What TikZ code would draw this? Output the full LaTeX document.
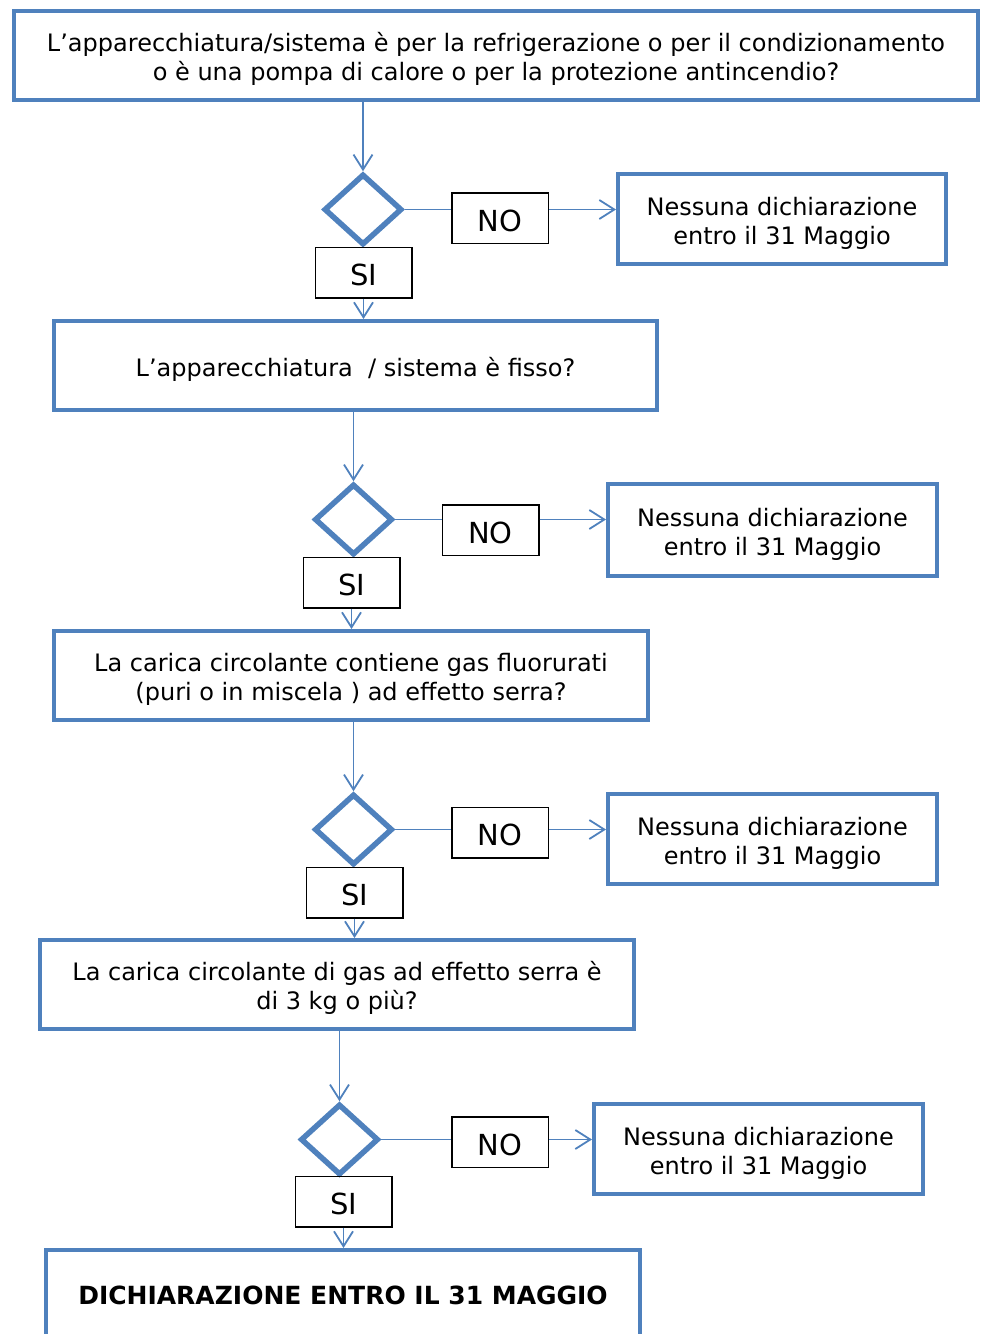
\documentclass[tikz,border=0pt]{standalone}
\usepackage{fontspec}
\setmainfont{DejaVu Sans}
\usetikzlibrary{shapes.geometric}
\usetikzlibrary{arrows.meta}
\definecolor{boxblue}{HTML}{4F81BD}
\newcommand{\boxstrut}{\rule{0pt}{26pt}}

\begin{document}
\begin{tikzpicture}[x=1pt,y=-1pt,
  question/.style={draw=boxblue,line width=4pt,align=center,inner sep=0pt,
    minimum height=89pt,font=\fontsize{24}{29}\selectfont},
  answer/.style={draw=black,line width=1.5pt,inner sep=0pt,minimum width=96.5pt,
    minimum height=50.5pt,font=\fontsize{29}{30}\selectfont,
    execute at begin node={\rule{0pt}{27pt}}},
  choice/.style={diamond,draw=boxblue,line width=5.5pt,inner sep=0pt,
    minimum width=78pt,minimum height=71pt},
  link/.style={boxblue,line width=1.8pt},
  flow/.style={link,-{Straight Barb[length=15pt,width=19pt]}}]
  \useasboundingbox (0,0) rectangle (982,1334);
  \node [question,minimum width=964pt] (q1) at (496,55.5)
    {\boxstrut L’apparecchiatura/sistema è per la refrigerazione o per il condizionamento\\
     o è una pompa di calore o per la protezione antincendio?};
  \node [question,minimum width=603pt] (q2) at (355.5,365.5)
    {\boxstrut L’apparecchiatura\ \ / sistema è fisso?};
  \node [question,minimum width=594pt] (q3) at (351,675.5)
    {\boxstrut La carica circolante contiene gas fluorurati\\(puri o in miscela ) ad effetto serra?};
  \node [question,minimum width=594pt] (q4) at (337,984.5)
    {\boxstrut La carica circolante di gas ad effetto serra è\\di 3 kg o più?};
  \node [question,minimum width=594pt,minimum height=91pt,
    font=\fontsize{25}{29}\selectfont\bfseries] (q5) at (343,1295.5)
    {DICHIARAZIONE ENTRO IL 31 MAGGIO};
  \node [choice] (d1) at (363,209.5) {};
  \node [choice] (d2) at (353.5,519.5) {};
  \node [choice] (d3) at (353.5,829.5) {};
  \node [choice] (d4) at (339.5,1139.5) {};
  \node [answer] (no1) at (500,218) {NO};
  \node [answer] (no2) at (490.5,530) {NO};
  \node [answer] (no3) at (500,832.5) {NO};
  \node [answer] (no4) at (500,1142) {NO};
  \node [answer] (si1) at (363.5,272.5) {SI};
  \node [answer] (si2) at (351.5,582.5) {SI};
  \node [answer] (si3) at (354.5,892.5) {SI};
  \node [answer] (si4) at (343.5,1201.5) {SI};
  \node [question,minimum width=328pt,minimum height=90pt] (r1) at (782,219)
    {\boxstrut Nessuna dichiarazione\\entro il 31 Maggio};
  \node [question,minimum width=329pt,minimum height=92pt] (r2) at (772.5,530)
    {\boxstrut Nessuna dichiarazione\\entro il 31 Maggio};
  \node [question,minimum width=329pt,minimum height=90pt] (r3) at (772.5,839)
    {\boxstrut Nessuna dichiarazione\\entro il 31 Maggio};
  \node [question,minimum width=329pt,minimum height=90pt] (r4) at (758.5,1149)
    {\boxstrut Nessuna dichiarazione\\entro il 31 Maggio};
  \draw [flow] (q1.south -| d1.north) -- (d1.north);
  \draw [flow] (q2.south -| d2.north) -- (d2.north);
  \draw [flow] (q3.south -| d3.north) -- (d3.north);
  \draw [flow] (q4.south -| d4.north) -- (d4.north);
  \draw [link] (d1.east) -- (d1.east -| no1.west);
  \draw [link] (d2.east) -- (d2.east -| no2.west);
  \draw [link] (d3.east) -- (d3.east -| no3.west);
  \draw [link] (d4.east) -- (d4.east -| no4.west);
  \draw [flow] (d1.east -| no1.east) -- (d1.east -| r1.west);
  \draw [flow] (d2.east -| no2.east) -- (d2.east -| r2.west);
  \draw [flow] (d3.east -| no3.east) -- (d3.east -| r3.west);
  \draw [flow] (d4.east -| no4.east) -- (d4.east -| r4.west);
  \draw [flow] (si1.south) -- (si1.south |- q2.north);
  \draw [flow] (si2.south) -- (si2.south |- q3.north);
  \draw [flow] (si3.south) -- (si3.south |- q4.north);
  \draw [flow] (si4.south) -- (si4.south |- q5.north);
\end{tikzpicture}
\end{document}
